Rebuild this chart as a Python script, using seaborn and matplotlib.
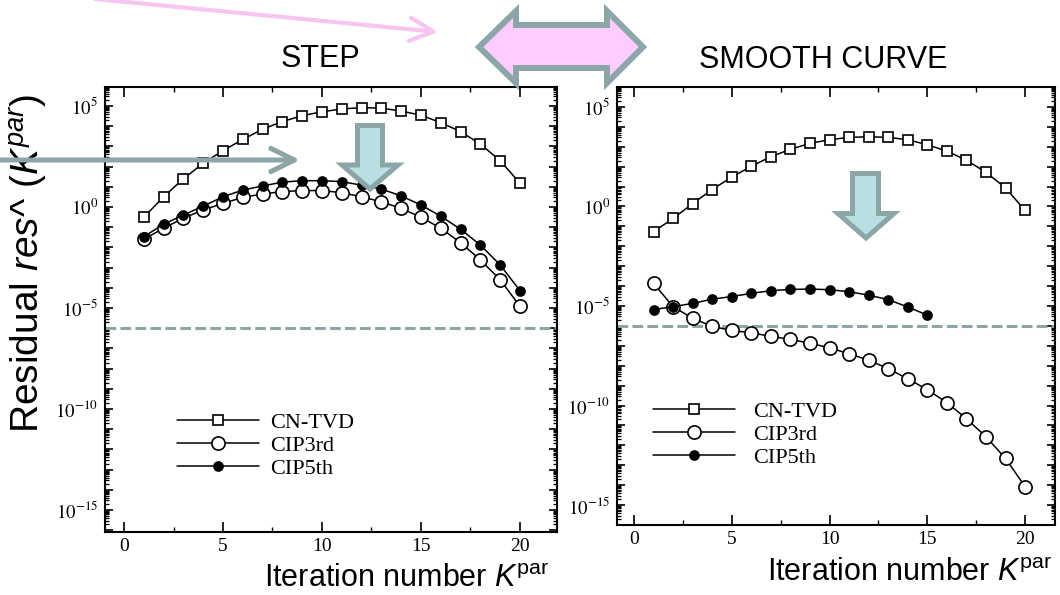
import numpy as np
import matplotlib
matplotlib.use("Agg")
import matplotlib.pyplot as plt
import seaborn as sns
from matplotlib.ticker import LogLocator, FuncFormatter, MultipleLocator, NullFormatter, FixedLocator
from matplotlib.patches import Polygon, FancyArrowPatch

# ---------------- data ----------------
iterations = list(range(1, 21))
iterations_short = list(range(1, 16))

step_cn_tvd = [0.31, 3.2, 25, 145, 620, 2.2e3, 7.1e3, 1.7e4, 3.3e4, 5.2e4,
               7.1e4, 8.3e4, 7.8e4, 5.6e4, 3.5e4, 1.5e4, 5.4e3, 1.3e3, 195, 15]
step_cip3 = [0.025, 0.089, 0.28, 0.71, 1.5, 3.0, 4.4, 5.8, 6.5, 6.5,
             5.1, 3.2, 1.8, 0.85, 0.31, 0.089, 0.017, 2.4e-3, 2.5e-4, 1.2e-5]
step_cip5 = [0.034, 0.14, 0.40, 1.1, 3.2, 6.9, 11, 17, 20, 20,
             18, 12, 7.8, 3.5, 1.26, 0.35, 0.079, 0.013, 1.35e-3, 7.2e-5]

smooth_cn_tvd = [0.054, 0.25, 1.4, 7.1, 30, 105, 316, 740, 1480, 2240,
                 2950, 3160, 2950, 2240, 1260, 600, 210, 52, 8.5, 0.63]
smooth_cip3 = [1.35e-4, 9.3e-6, 2.4e-6, 9.5e-7, 5.9e-7, 4.5e-7, 3.0e-7, 2.1e-7, 1.35e-7, 7.9e-8,
               4.0e-8, 1.9e-8, 7.1e-9, 2.2e-9, 6.3e-10, 1.4e-10, 2.2e-11, 2.7e-12, 2.2e-13, 8.5e-15]
smooth_cip5 = [6.6e-6, 9.3e-6, 1.35e-5, 2.2e-5, 3.0e-5, 4.3e-5, 5.9e-5, 6.8e-5, 7.1e-5, 6.6e-5,
               5.2e-5, 3.5e-5, 2.1e-5, 8.9e-6, 3.5e-6]

threshold = 1e-6
series_names = ["CN-TVD", "CIP3rd", "CIP5th"]
panel_titles = ["STEP", "SMOOTH CURVE"]
x_ticks = [0, 5, 10, 15, 20]
x_label = r"Iteration number $\mathit{K}^{\mathrm{par}}$"
y_label = r"Residual $\mathit{res}$^ $\mathit{(K^{par})}$"

# ---------------- style ----------------
sns.set_theme(style="ticks")
plt.rcParams["font.family"] = ["Liberation Serif", "DejaVu Serif"]
plt.rcParams["mathtext.fontset"] = "stix"
plt.rcParams["mathtext.rm"] = "Liberation Sans"
plt.rcParams["mathtext.it"] = "Liberation Sans:italic"
plt.rcParams["mathtext.bf"] = "Liberation Sans:bold"
for key in ["text.color", "axes.labelcolor", "xtick.color", "ytick.color", "axes.edgecolor"]:
    plt.rcParams[key] = "black"

W, H = 1060, 595
fig = plt.figure(figsize=(W / 100, H / 100), dpi=100)
fig.patch.set_facecolor("white")


def px(x, y):
    return (x / W, 1 - y / H)


GRAY = "#8CA6A7"
PINK_FILL = "#FFCCFF"
PINK_LINE = "#F8C4F2"
CYAN_FILL = "#B8DFE2"

styles = {
    "CN-TVD": dict(marker="s", markersize=7.5, markerfacecolor="white"),
    "CIP3rd": dict(marker="o", markersize=9.5, markerfacecolor="white"),
    "CIP5th": dict(marker="o", markersize=6.5, markerfacecolor="black"),
}

axL = fig.add_axes([105 / W, 1 - 532 / H, 452 / W, 445 / H])
axR = fig.add_axes([617 / W, 1 - 525 / H, 438 / W, 438 / H])

panels = [
    (axL, [(iterations, step_cn_tvd), (iterations, step_cip3), (iterations, step_cip5)],
     (-0.96, 21.87), (10 ** -16.09, 10 ** 5.94)),
    (axR, [(iterations, smooth_cn_tvd), (iterations, smooth_cip3), (iterations_short, smooth_cip5)],
     (-0.87, 21.53), (1e-16, 1e6)),
]


def ytick_fmt(v, pos):
    e = int(round(np.log10(v)))
    return f"$10^{{{e}}}$" if e % 5 == 0 else ""


for ax, series, xlim, ylim in panels:
    for name, (xs, ys) in zip(series_names, series):
        sns.lineplot(x=xs, y=ys, ax=ax, color="black", linewidth=1.1,
                     markeredgecolor="black", markeredgewidth=1.2,
                     label=name, legend=False, **styles[name])
    ax.axhline(threshold, color=GRAY, linestyle=(0, (3.5, 1.4)), lw=2.2, zorder=1)
    ax.set_yscale("log")
    ax.set_xlim(*xlim)
    ax.set_ylim(*ylim)
    ax.set_xlabel("")
    ax.set_ylabel("")
    ax.xaxis.set_major_locator(FixedLocator(x_ticks))
    ax.xaxis.set_minor_locator(MultipleLocator(2.5))
    ax.yaxis.set_major_locator(LogLocator(base=10, numticks=60))
    ax.yaxis.set_major_formatter(FuncFormatter(ytick_fmt))
    ax.yaxis.set_minor_locator(LogLocator(base=10, subs=np.arange(2, 10), numticks=60))
    ax.yaxis.set_minor_formatter(NullFormatter())
    ax.tick_params(axis="x", which="major", direction="in", top=True, length=7, width=1.2,
                   labelsize=14, pad=4, colors="black")
    ax.tick_params(axis="x", which="minor", direction="in", top=True, length=3.5, width=1.0,
                   colors="black")
    ax.tick_params(axis="y", which="major", direction="in", right=True, length=6, width=1.2,
                   labelsize=13.5, pad=5, colors="black")
    ax.tick_params(axis="y", which="minor", direction="in", right=True, length=3, width=0.9,
                   colors="black")
    for s in ax.spines.values():
        s.set_color("black")
        s.set_linewidth(1.5)

# legends
legend_kw = dict(frameon=False, borderpad=0, borderaxespad=0, handlelength=3.7,
                 labelspacing=0.12, prop={"family": "Liberation Serif", "size": 16},
                 loc="upper left", bbox_transform=fig.transFigure, labelcolor="black")
h, l = axL.get_legend_handles_labels()
axL.legend(h, l, bbox_to_anchor=px(177, 412), handletextpad=0.5, **legend_kw)
h, l = axR.get_legend_handles_labels()
axR.legend(h, l, bbox_to_anchor=px(653, 401), handletextpad=0.8, **legend_kw)

# titles and labels
txt_kw = dict(color="black", family="Liberation Sans")
fig.text(*px(320, 59), panel_titles[0], ha="center", va="center", fontsize=22, **txt_kw)
fig.text(*px(823, 60), panel_titles[1], ha="center", va="center", fontsize=22, **txt_kw)
fig.text(*px(550, 587), x_label, ha="right", va="baseline", fontsize=22,
         math_fontfamily="custom", **txt_kw)
fig.text(*px(1053, 581), x_label, ha="right", va="baseline", fontsize=22,
         math_fontfamily="custom", **txt_kw)
fig.text(*px(29, 263), y_label, ha="center", va="center", rotation=90, fontsize=28,
         math_fontfamily="custom", **txt_kw)

# ---------------- decorations ----------------
pink_arrow = FancyArrowPatch(px(95, -1), px(438, 32), transform=fig.transFigure,
                             arrowstyle="->,head_length=0.85,head_width=0.42",
                             mutation_scale=20, color=PINK_LINE, lw=3, zorder=10,
                             shrinkA=0, shrinkB=0)
fig.add_artist(pink_arrow)

gray_arrow = FancyArrowPatch(px(-3, 160), px(300, 160), transform=fig.transFigure,
                             arrowstyle="->,head_length=0.85,head_width=0.42",
                             mutation_scale=20, color=GRAY, lw=3.6, zorder=10,
                             shrinkA=0, shrinkB=0)
fig.add_artist(gray_arrow)

double_arrow_pts = [(479, 47), (516, 11), (516, 25), (607, 25), (607, 11), (643, 47),
                    (607, 83), (607, 68), (516, 68), (516, 83)]
fig.add_artist(Polygon([px(*p) for p in double_arrow_pts], closed=True,
                       facecolor=PINK_FILL, edgecolor=GRAY, lw=4.3,
                       transform=fig.transFigure, zorder=10, joinstyle="miter"))

down_left = [(357.5, 125.5), (382.5, 125.5), (382.5, 165), (398, 165), (370, 189),
             (342, 165), (357.5, 165)]
down_right = [(852.5, 173.5), (878.5, 173.5), (878.5, 213.5), (894, 213.5), (866, 238),
              (838, 213.5), (852.5, 213.5)]
for pts in (down_left, down_right):
    fig.add_artist(Polygon([px(*p) for p in pts], closed=True,
                           facecolor=CYAN_FILL, edgecolor=GRAY, lw=3.6,
                           transform=fig.transFigure, zorder=10, joinstyle="miter"))

fig.savefig("out.png", dpi=100)
